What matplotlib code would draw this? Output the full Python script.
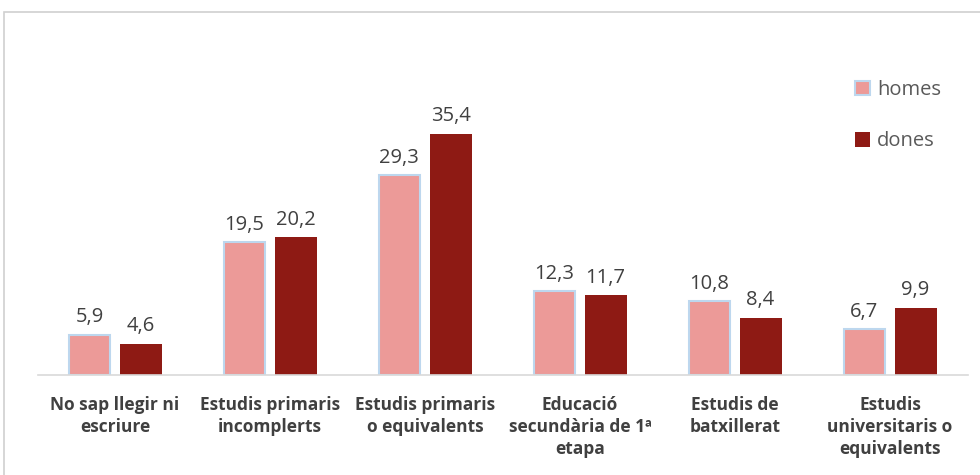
import numpy as np
import matplotlib.pyplot as plt
from matplotlib.patches import Rectangle

categories = ['No sap llegir ni\nescriure', 'Estudis primaris\nincomplerts',
              'Estudis primaris\no equivalents', 'Educació\nsecundària de 1ª\netapa',
              'Estudis de\nbatxillerat', 'Estudis\nuniversitaris o\nequivalents']
homes = [5.9, 19.5, 29.3, 12.3, 10.8, 6.7]
dones = [4.6, 20.2, 35.4, 11.7, 8.4, 9.9]

plt.rcParams['font.family'] = ['Open Sans', 'DejaVu Sans']

fig = plt.figure(figsize=(9.8, 4.75), dpi=100)
fig.patches.append(Rectangle((4/980, -0.05), 1.1, 1 - 12/475 + 0.05, transform=fig.transFigure,
                             fill=False, edgecolor='#d0d0d0', linewidth=1.2))
ax = fig.add_axes([37.5/980, 100/475, 930/980, 275/475])

x = np.arange(len(categories))
w = 0.27
off = 0.165
b1 = ax.bar(x - off, homes, w, color='#ec9a98', edgecolor='#bdd7ee', linewidth=1.5, label='homes')
b2 = ax.bar(x + off, dones, w, color='#8e1a14', label='dones')

for bars, vals in ((b1, homes), (b2, dones)):
    for r, v in zip(bars, vals):
        ax.text(r.get_x() + r.get_width()/2, v + 1.1, f'{v:.1f}'.replace('.', ','),
                ha='center', va='bottom', fontsize=14.5, color='#404040')

ax.set_xlim(-0.5, len(categories) - 0.5)
ax.set_ylim(0, 275/6.81)
ax.set_xticks(x)
ax.set_xticklabels(categories, fontsize=12.5, fontweight='bold', color='#404040', linespacing=1.3)
ax.tick_params(axis='x', length=0, pad=15)
ax.set_yticks([])
for s in ['top', 'right', 'left']:
    ax.spines[s].set_visible(False)
ax.spines['bottom'].set_color('#d9d9d9')
ax.spines['bottom'].set_linewidth(1.2)

fig.legend(loc='upper left', bbox_to_anchor=(851/980, 1 - 76/475), frameon=False,
           fontsize=14.5, labelspacing=1.55, handlelength=0.75, handleheight=0.75,
           handletextpad=0.35, labelcolor='#595959', borderaxespad=0, borderpad=0.2)

fig.savefig('out.png', dpi=100)
